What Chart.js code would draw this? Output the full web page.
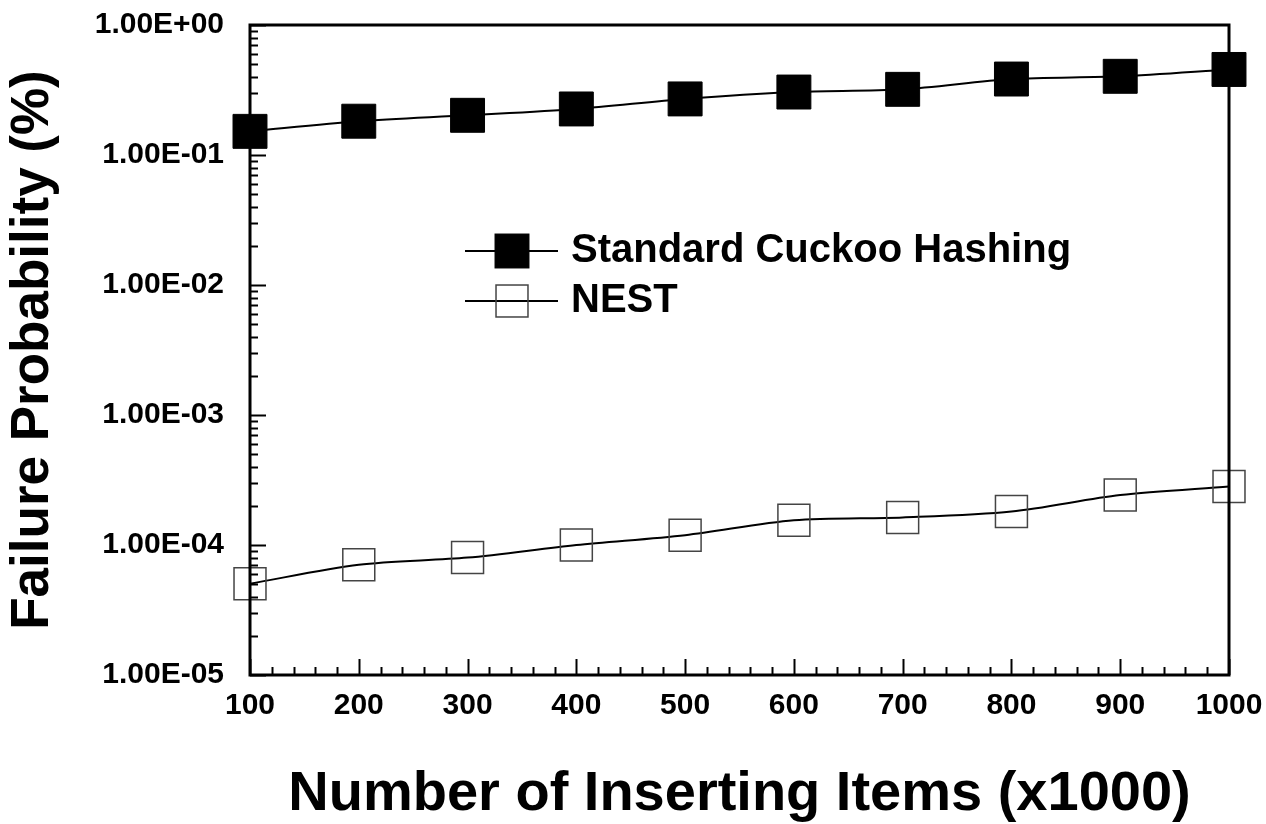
<!DOCTYPE html>
<html>
<head>
<meta charset="utf-8">
<script src="https://cdn.jsdelivr.net/npm/chart.js@4/dist/chart.umd.min.js"></script>
<style>
  html, body { margin: 0; padding: 0; background: #fff; }
  #wrap { width: 1266px; height: 824px; }
</style>
</head>
<body>
<div id="wrap"><canvas id="chart" width="1266" height="824"></canvas></div>
<script>
// Data (failure probability in %)
const items = [100, 200, 300, 400, 500, 600, 700, 800, 900, 1000];
const cuckooValues = [0.152, 0.182, 0.202, 0.226, 0.27, 0.305, 0.32, 0.384, 0.403, 0.455];
const nestValues = [5.04e-5, 7.05e-5, 8.0e-5, 1.0e-4, 1.19e-4, 1.55e-4, 1.63e-4, 1.81e-4, 2.42e-4, 2.82e-4];
const seriesNames = ['Standard Cuckoo Hashing', 'NEST'];
const xTicks = [100, 200, 300, 400, 500, 600, 700, 800, 900, 1000];
const yMin = 1e-5;
const yMax = 1;

const FONT = "'Liberation Sans', Arial, Helvetica, sans-serif";

// Format 0.001 as 1.00E-03
function sciLabel(v) {
  const e = Math.round(Math.log10(v));
  if (Math.abs(Math.log10(v) - e) > 1e-6) return null;
  const sign = e < 0 ? '-' : '+';
  return '1.00E' + sign + String(Math.abs(e)).padStart(2, '0');
}

// Keep tick labels from pushing the plot area around
function noLabelPadding(scale) {
  scale.paddingTop = 0;
  scale.paddingBottom = 0;
  scale.paddingLeft = 0;
  scale.paddingRight = 0;
}

// Inward tick marks, frame and the legend inside the plot
const frameTicks = {
  id: 'frameTicks',
  afterDatasetsDraw(chart) {
    const { ctx, chartArea: a, scales: { x, y } } = chart;
    ctx.save();
    ctx.strokeStyle = '#000';

    // y ticks: decades long, 2..9 short
    ctx.lineWidth = 2;
    for (let e = -5; e <= 0; e++) {
      for (let m = 1; m <= 9; m++) {
        const v = m * Math.pow(10, e);
        if (v > yMax * 1.0001) break;
        const py = Math.round(y.getPixelForValue(v)) + 0.5;
        const len = m === 1 ? 16 : 8;
        ctx.beginPath();
        ctx.moveTo(a.left, py);
        ctx.lineTo(a.left + len, py);
        ctx.stroke();
      }
    }

    // x ticks: every 100 long, every 20 short
    for (let v = 100; v <= 1000; v += 20) {
      const px = Math.round(x.getPixelForValue(v)) + 0.5;
      const len = v % 100 === 0 ? 16 : 8;
      ctx.beginPath();
      ctx.moveTo(px, a.bottom);
      ctx.lineTo(px, a.bottom - len);
      ctx.stroke();
    }

    ctx.lineWidth = 3;
    ctx.strokeRect(a.left, a.top, a.right - a.left, a.bottom - a.top);
    ctx.restore();
  },
  afterDraw(chart) {
    const { ctx } = chart;
    const rows = [251, 301];
    ctx.save();
    chart.data.datasets.forEach((ds, i) => {
      const cy = rows[i];
      ctx.strokeStyle = '#000';
      ctx.lineWidth = 2;
      ctx.beginPath();
      ctx.moveTo(465, cy);
      ctx.lineTo(558, cy);
      ctx.stroke();
      const side = ds.pointRadius * Math.SQRT2;
      if (ds.pointBackgroundColor !== 'rgba(0,0,0,0)') {
        ctx.fillStyle = ds.pointBackgroundColor;
        ctx.fillRect(512 - side / 2, cy - side / 2, side, side);
      }
      ctx.lineWidth = ds.pointBorderWidth;
      ctx.strokeStyle = ds.pointBorderColor;
      ctx.strokeRect(512 - side / 2, cy - side / 2, side, side);
      ctx.fillStyle = '#000';
      ctx.font = 'bold 40px ' + FONT;
      ctx.textBaseline = 'middle';
      ctx.textAlign = 'left';
      ctx.fillText(ds.label, 571, cy);
    });
    ctx.restore();
  }
};

new Chart(document.getElementById('chart'), {
  type: 'line',
  data: {
    datasets: [
      {
        label: seriesNames[0],
        data: items.map((v, i) => ({ x: v, y: cuckooValues[i] })),
        borderColor: '#000',
        borderWidth: 2,
        tension: 0.3,
        pointStyle: 'rect',
        pointRadius: 24,
        pointBackgroundColor: '#000',
        pointBorderColor: '#000',
        pointBorderWidth: 1,
        clip: false
      },
      {
        label: seriesNames[1],
        data: items.map((v, i) => ({ x: v, y: nestValues[i] })),
        borderColor: '#000',
        borderWidth: 2,
        tension: 0.3,
        pointStyle: 'rect',
        pointRadius: 22.6,
        pointBackgroundColor: 'rgba(0,0,0,0)',
        pointBorderColor: '#444',
        pointBorderWidth: 1.5,
        clip: false
      }
    ]
  },
  options: {
    responsive: false,
    animation: false,
    events: [],
    layout: { padding: { top: 22, right: 37, left: 0, bottom: 0 } },
    plugins: {
      legend: { display: false },
      tooltip: { enabled: false }
    },
    scales: {
      x: {
        type: 'linear',
        min: 100,
        max: 1000,
        afterBuildTicks: scale => { scale.ticks = xTicks.map(v => ({ value: v })); },
        ticks: {
          color: '#000',
          padding: 13,
          maxRotation: 0,
          autoSkip: false,
          font: { family: FONT, size: 30, weight: 'bold' },
          callback: v => String(v)
        },
        grid: { display: false, drawTicks: false },
        border: { display: false },
        title: {
          display: true,
          text: 'Number of Inserting Items (x1000)',
          color: '#000',
          padding: { top: 0, bottom: -4 },
          font: { family: FONT, size: 56, weight: 'bold' }
        },
        afterFit: scale => { scale.height = 149; noLabelPadding(scale); }
      },
      y: {
        type: 'logarithmic',
        min: yMin,
        max: yMax,
        ticks: {
          color: '#000',
          padding: 26,
          autoSkip: false,
          font: { family: FONT, size: 30, weight: 'bold' },
          callback: v => sciLabel(v)
        },
        grid: { display: false, drawTicks: false },
        border: { display: false },
        title: {
          display: true,
          text: 'Failure Probability (%)',
          color: '#000',
          padding: { top: 2, bottom: 0 },
          font: { family: FONT, size: 53, weight: 'bold' }
        },
        afterFit: scale => { scale.width = 250; noLabelPadding(scale); }
      }
    }
  },
  plugins: [frameTicks]
});
</script>
</body>
</html>
